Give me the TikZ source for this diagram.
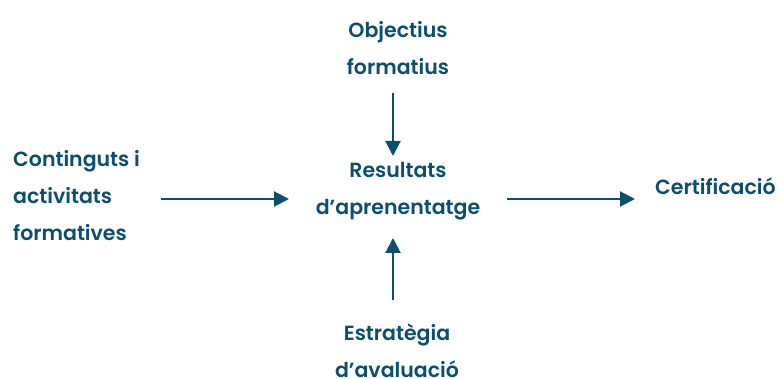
\documentclass[tikz,border=0pt]{standalone}
\usepackage{fontspec}
\setmainfont{Poppins}[UprightFont={* SemiBold}]
\usetikzlibrary{arrows.meta}
\definecolor{ink}{RGB}{10,78,112}
\tikzset{
  lbl/.style={text=ink, font=\fontsize{20.5}{37}\selectfont, inner sep=0pt, align=center},
  arr/.style={draw=ink, line width=2pt, -{Triangle[length=15pt,width=15pt]}}
}
\begin{document}
\begin{tikzpicture}[x=1pt,y=-1pt]
\useasboundingbox (0,0) rectangle (779,379);
\node[lbl] (obj) at (398,48.5) {Objectius\\formatius};
\node[lbl] (res) at (398,191.5) {Resultats\\d’aprenentatge};
\node[lbl, align=left, anchor=west] (cont) at (13,196) {Continguts i\\activitats\\formatives};
\node[lbl, anchor=west] (cert) at (655,186) {Certificació};
\node[lbl] (est) at (397,350.5) {Estratègia\\d’avaluació};
\coordinate (t1) at (393,93);
\coordinate (t2) at (393,156);
\coordinate (l1) at (161,199);
\coordinate (l2) at (289,199);
\coordinate (r1) at (507,199);
\coordinate (r2) at (635,199);
\coordinate (b1) at (393,300);
\coordinate (b2) at (393,238);
\draw[arr] (t1) -- (t2);
\draw[arr] (l1) -- (l2);
\draw[arr] (r1) -- (r2);
\draw[arr] (b1) -- (b2);
\end{tikzpicture}
\end{document}
